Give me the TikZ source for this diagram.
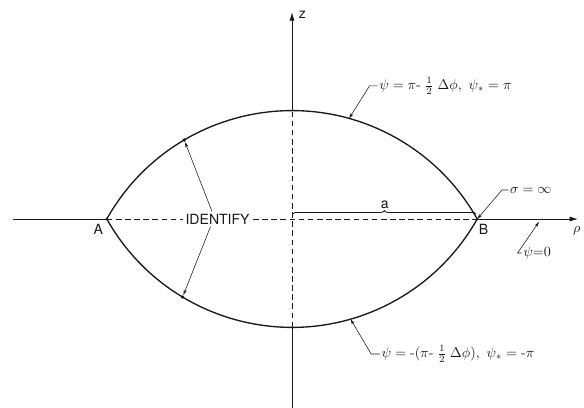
\documentclass[tikz,border=0pt]{standalone}
\usepackage{amsmath,amssymb}
\usepackage{fontspec}
\setsansfont{TeX Gyre Heros}
\usepackage{tikz}
\usetikzlibrary{arrows.meta, positioning, calc, decorations.pathreplacing}
\usepackage{xcolor}
\definecolor{ink}{RGB}{25,25,25}

\tikzset{
  lens/.style={ink, line width=0.95pt},
  axisline/.style={ink, line width=0.6pt},
  inside/.style={axisline, dash pattern=on 4pt off 2.5pt},
  leader/.style={ink, line width=0.4pt, -{Stealth[length=4pt,width=2.2pt]}},
  spot/.style={circle, fill=ink, inner sep=0pt, minimum size=2.6pt},
  lbl/.style={font=\sffamily, text=ink},
  eqn/.style={text=ink, anchor=west, inner sep=1pt},
}

\begin{document}
\begin{tikzpicture}
  \useasboundingbox (-7.3,-4.725) rectangle (7.3,5.475);
  % Lens
  \coordinate (A) at (-4.63,0);
  \coordinate (B) at (4.63,0);
  \coordinate (top) at (0,2.71);
  \coordinate (bot) at (0,-2.71);
  \draw[lens] (A) arc[start angle=150.67, end angle=29.33, radius=5.311];
  \draw[lens] (A) arc[start angle=209.33, end angle=330.67, radius=5.311];
  \node[spot, minimum size=2pt] (Adot) at (A) {};
  \node[spot, minimum size=2pt] (Bdot) at (B) {};
  \node[spot] (ud) at ($(0,-2.601)+(120.5:5.311)$) {};
  \node[spot] (ld) at ($(0,2.601)+(239:5.311)$) {};
  \coordinate (ut) at ($(0,-2.601)+(74.4:5.311)$);
  \coordinate (lt) at ($(0,2.601)+(286:5.311)$);
  % Axes
  \draw[axisline] (-6.98,0) -- (A);
  \draw[inside] (A) -- (B);
  \draw[axisline, -{Latex[length=6pt,width=3.6pt]}] (B) -- (7.15,0) coordinate (rhoend);
  \draw[axisline, -{Latex[length=6pt,width=3.6pt]}] (top) -- (0,5.17) coordinate (zend);
  \draw[inside] (bot) -- (top);
  \draw[axisline] (bot) -- (0,-4.72);
  \node[lbl] (zlbl) at (0.26,5.1) {z};
  \node[text=ink] (rho) at (7.12,-0.29) {$\rho$};
  \node[lbl] (Alab) at (-4.84,-0.25) {A};
  \node[lbl] (Blab) at (4.79,-0.25) {B};
  % Radius
  \draw[axisline, decorate, decoration={brace, amplitude=2.5pt}] (0.02,0.12) -- (4.6,0.12);
  \node[lbl] (alen) at (2.32,0.36) {a};
  % Identify
  \node[lbl, fill=white, inner sep=1.5pt] (ident) at (-1.86,0) {IDENTIFY};
  \draw[leader] ([xshift=-4pt]ident.north) -- (ud);
  \draw[leader] ([xshift=-5pt]ident.south) -- (ld);
  % Labels
  \node[eqn] (upsi) at (2.14,3.33) {$\psi = \pi\text{-}\;\tfrac{1}{2}\;\Delta\phi,\ \psi_{\ast} = \pi$};
  \draw[leader] (upsi.west) -- ++(-0.2,0) -- (ut);
  \node[eqn] (lpsi) at (2.2,-3.375) {$\psi = \text{-}(\pi\text{-}\;\tfrac{1}{2}\;\Delta\phi),\ \psi_{\ast} = \text{-}\pi$};
  \draw[leader] (lpsi.west) -- ++(-0.22,0) -- (lt);
  \node[eqn] (sig) at (5.41,0.725) {$\sigma = \infty$};
  \draw[leader] (sig.west) -- ++(-0.16,0) -- (B);
  \coordinate (rhopt) at (6.175,-0.07);
  \node[eqn] (pzero) at (5.74,-0.85) {$\psi{=}0$};
  \draw[leader] (pzero.west) -- ++(-0.1,0) -- (rhopt);
\end{tikzpicture}
\end{document}
